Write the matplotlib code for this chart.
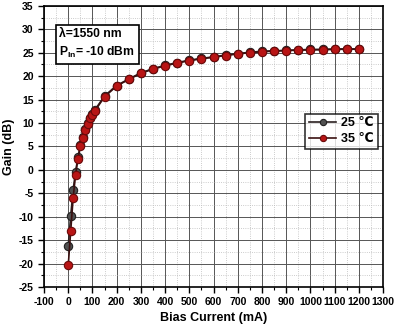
import numpy as np
import matplotlib
matplotlib.use("Agg")
import matplotlib.pyplot as plt
from matplotlib.ticker import MultipleLocator

plt.rcParams['font.family'] = ['Liberation Sans', 'DejaVu Sans']
plt.rcParams['font.weight'] = 'bold'
plt.rcParams['axes.unicode_minus'] = False

# Donnees
current_mA = [0, 10, 20, 30, 40, 50, 60, 70, 80, 90, 100, 110,
              150, 200, 250, 300, 350, 400, 450, 500, 550, 600, 650, 700,
              750, 800, 850, 900, 950, 1000, 1050, 1100, 1150, 1200]
gain_25C = [-16.2, -9.8, -4.3, -0.4, 2.7, 5.2, 7.1, 8.7, 9.9, 11.1, 12.0, 12.8,
            15.8, 18.0, 19.4, 20.7, 21.6, 22.3, 22.9, 23.4, 23.8, 24.1, 24.5, 24.8,
            25.1, 25.3, 25.4, 25.5, 25.6, 25.7, 25.7, 25.8, 25.8, 25.8]
gain_35C = [-20.3, -13.1, -6.0, -1.1, 2.4, 5.0, 6.9, 8.5, 9.7, 11.0, 11.8, 12.6,
            15.6, 17.9, 19.3, 20.6, 21.5, 22.2, 22.8, 23.3, 23.7, 24.05, 24.4, 24.75,
            25.0, 25.2, 25.35, 25.45, 25.55, 25.6, 25.65, 25.7, 25.75, 25.75]

fig = plt.figure(figsize=(4.08, 3.25), dpi=100)
ax = fig.add_axes([0.108, 0.117, 0.831, 0.865])

ax.plot(current_mA, gain_25C, '-o', color='#2b2020', lw=1.2, ms=6,
        mfc='#505050', mec='#202020', mew=0.8, label='25 \u2103', zorder=3)
ax.plot(current_mA, gain_35C, '-o', color='#3a1010', lw=1.2, ms=6,
        mfc='#b81515', mec='#6a0a0a', mew=0.8, label='35 \u2103', zorder=4)

ax.set_xlim(-100, 1300)
ax.set_ylim(-25, 35)
ax.xaxis.set_major_locator(MultipleLocator(100))
ax.xaxis.set_minor_locator(MultipleLocator(50))
ax.yaxis.set_major_locator(MultipleLocator(5))
ax.yaxis.set_minor_locator(MultipleLocator(2.5))

ax.grid(which='major', color='#555555', lw=0.7)
ax.grid(which='minor', color='#bbbbbb', lw=0.6, ls=':')
ax.set_axisbelow(True)

ax.tick_params(which='major', direction='out', length=4, width=1, labelsize=7.5)
ax.tick_params(which='minor', direction='out', length=2, width=0.8)
for lab in ax.get_xticklabels() + ax.get_yticklabels():
    lab.set_fontweight('bold')
for s in ax.spines.values():
    s.set_linewidth(1.2)

ax.set_xlabel('Bias Current (mA)', fontsize=9, fontweight='bold', labelpad=3)
ax.set_ylabel('Gain (dB)', fontsize=9, fontweight='bold')
ax.yaxis.set_label_coords(-0.085, 0.5)

ax.text(-37, 30.3, '\u03bb=1550 nm\nP$_{\\mathregular{In}}$= -10 dBm', fontsize=8.7,
        fontweight='bold', va='top', ha='left', linespacing=1.45,
        bbox=dict(boxstyle='square,pad=0.3', fc='white', ec='black', lw=1.2))

leg = ax.legend(loc='upper right', bbox_to_anchor=(0.995, 0.63), fontsize=9,
                frameon=True, fancybox=False, edgecolor='black',
                handlelength=2.2, borderpad=0.3, labelspacing=0.3, markerscale=0.75,
                handletextpad=0.4, borderaxespad=0.3)
leg.get_frame().set_linewidth(1.2)
for t in leg.get_texts():
    t.set_fontweight('bold')

fig.savefig('out.png', dpi=100)
